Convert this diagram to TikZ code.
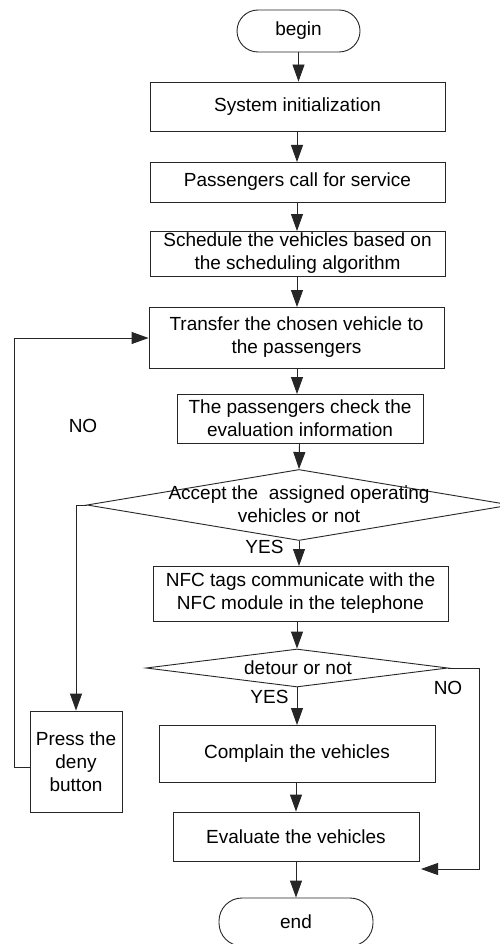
\documentclass[tikz,border=0pt]{standalone}
\usepackage{fontspec}
\setmainfont{Liberation Sans}
\usetikzlibrary{arrows.meta,shapes.geometric}
\begin{document}
\begin{tikzpicture}[x=1pt,y=-1pt,
  font=\fontsize{19}{23}\selectfont,
  box/.style={draw=black!85, line width=0.9pt, rectangle, inner sep=0pt, align=center},
  term/.style={box, rounded corners=21pt},
  dia/.style={draw=black!85, line width=0.9pt, diamond, inner sep=0pt},
  flow/.style={draw=black!85, line width=0.9pt, -{Triangle[length=17pt,width=12pt]}},
  link/.style={draw=black!85, line width=0.9pt},
  lbl/.style={inner sep=0pt, align=center}]
\useasboundingbox (0,0) rectangle (499,944);
\fill[white] (0,0) rectangle (499,944);

\node[term, minimum width=123pt, minimum height=42pt] (begin) at (298.5,31) {begin};
\node[box, minimum width=295pt, minimum height=49pt] (sys) at (297.5,106.5) {System initialization};
\node[box, minimum width=295pt, minimum height=40pt] (call) at (297.5,182) {Passengers call for service};
\node[box, minimum width=295pt, minimum height=45pt] (sched) at (297.5,253.5) {Schedule the vehicles based on\\the scheduling algorithm};
\node[box, minimum width=295pt, minimum height=61pt] (trans) at (296.5,337.5) {Transfer the chosen vehicle to\\the passengers};
\node[box, minimum width=246pt, minimum height=49pt] (check) at (300,418.5) {The passengers check the\\evaluation information};
\node[dia, minimum width=424pt, minimum height=71pt] (d1) at (299,505) {};
\node[lbl] (d1t) at (299,504.5) {Accept the~ assigned operating\\vehicles or not};
\node[box, minimum width=295pt, minimum height=55pt] (nfc) at (300.5,593.5) {NFC tags communicate with the\\NFC module in the telephone};
\node[dia, minimum width=302pt, minimum height=38pt] (d2) at (297,668) {};
\node[lbl] (d2t) at (298,668) {detour or not};
\node[box, minimum width=92pt, minimum height=101pt] (press) at (76,761.5) {Press the\\deny\\button};
\node[box, minimum width=276pt, minimum height=57pt] (comp) at (297,753.5) {Complain the vehicles};
\node[box, minimum width=246pt, minimum height=49pt] (eval) at (296,836.5) {Evaluate the vehicles};
\node[term, minimum width=154pt, minimum height=48pt, rounded corners=23pt] (end) at (296,922) {end};

\node[lbl] (no1) at (83,426) {NO};
\node[lbl] (yes1) at (264.5,547) {YES};
\node[lbl] (no2) at (448,688) {NO};
\node[lbl] (yes2) at (269.5,697) {YES};

\coordinate (nofree) at (421,869);

\draw[flow] (begin.south) -- (begin.south |- sys.north);
\draw[flow] (297,131) -- (297,162);
\draw[flow] (297,202) -- (297,231);
\draw[flow] (297,276) -- (297,307);
\draw[flow] (297,368) -- (297,394);
\draw[flow] (299.5,443) -- (d1.north);
\draw[flow] (d1.south) -- (299,566);
\draw[flow] (297,621) -- (d2.north);
\draw[flow] (d2.south) -- (297,725);
\draw[flow] (296,782) -- (eval.north);
\draw[flow] (eval.south) -- (end.north);

\draw[flow] (d1.west) -- (76,505) -- (press.north);
\draw[flow] (press.west |- 0,767) -- (14,767) -- (14,338) -- (trans.west |- 0,338);
\draw[flow] (d2.east) -- (479,668) -- (479,869) -- (nofree);
\end{tikzpicture}
\end{document}
